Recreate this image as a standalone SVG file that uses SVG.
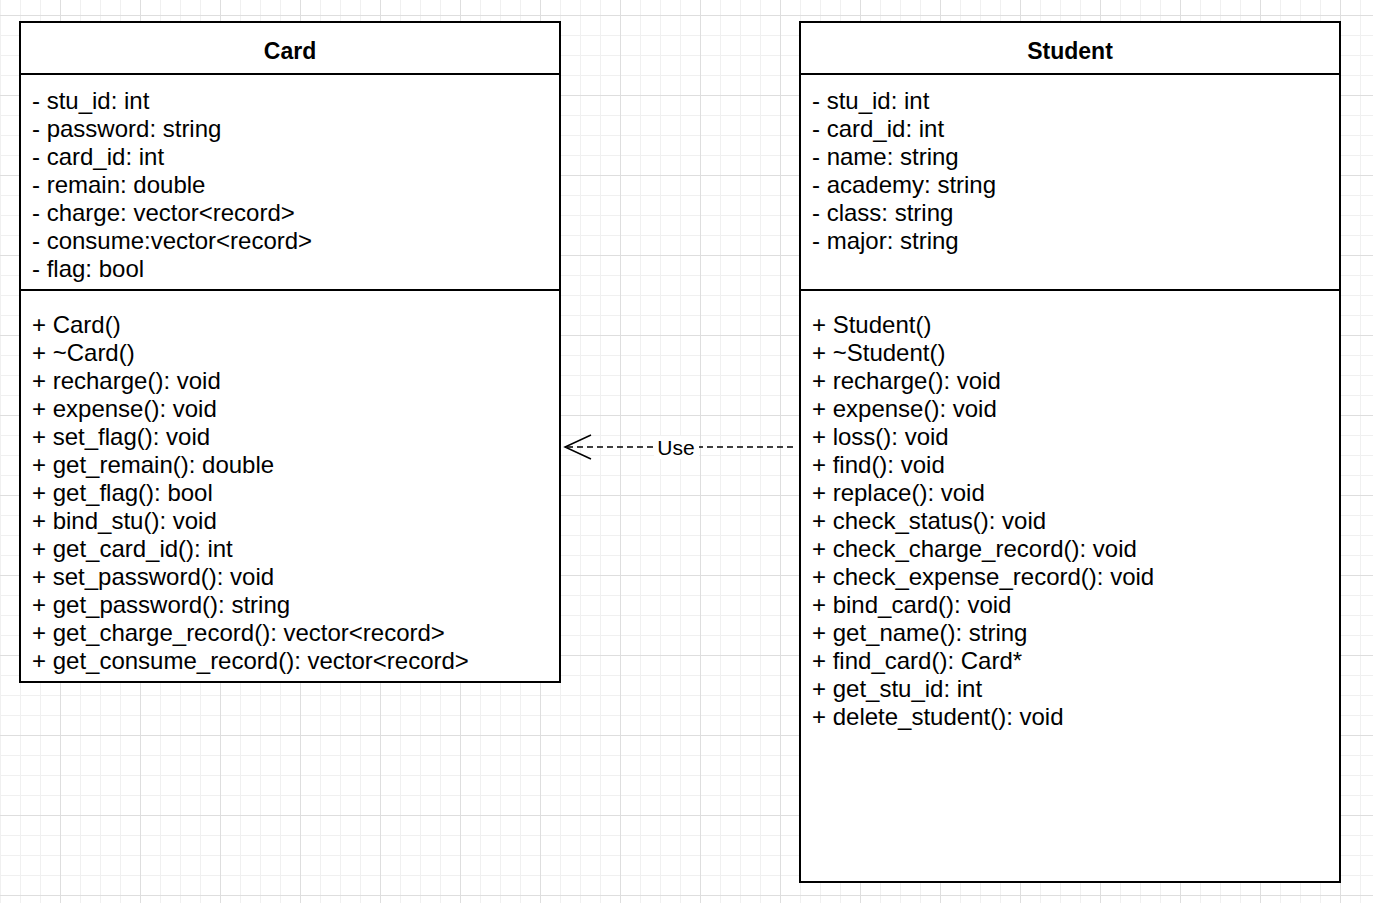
<svg xmlns="http://www.w3.org/2000/svg" width="1373" height="903" viewBox="0 0 1373 903">
<defs>
<pattern id="minor" x="0" y="15" width="20" height="20" patternUnits="userSpaceOnUse">
<path d="M0 0.5H20M0.5 0V20" fill="none" stroke="#f0f0f0" stroke-width="1"/>
</pattern>
<pattern id="major" x="60" y="15" width="80" height="80" patternUnits="userSpaceOnUse">
<path d="M0 0.5H80M0.5 0V80" fill="none" stroke="#dedede" stroke-width="1"/>
</pattern>
<marker id="open" viewBox="0 0 30 30" refX="28" refY="15" markerWidth="30" markerHeight="30" markerUnits="userSpaceOnUse" orient="auto">
<path d="M2 3L28 15L2 27" fill="none" stroke="#000" stroke-width="1.5"/>
</marker>
</defs>
<style>
.box{fill:#fff;stroke:#000;stroke-width:2}
.sep{stroke:#000;stroke-width:2}
.t{font-family:"Liberation Sans",Arial,sans-serif;font-size:24px;fill:#000}
.h{font-family:"Liberation Sans",Arial,sans-serif;font-size:23px;font-weight:bold;fill:#000;text-anchor:middle}
</style>
<rect width="1373" height="903" fill="#fff"/>
<rect width="1373" height="903" fill="url(#minor)"/>
<rect width="1373" height="903" fill="url(#major)"/>

<g id="card">
<rect class="box" x="20" y="22" width="540" height="660"/>
<line class="sep" x1="20" y1="74" x2="560" y2="74"/>
<line class="sep" x1="20" y1="290" x2="560" y2="290"/>
<text class="h" x="290" y="59">Card</text>
<text class="t" x="32" y="109">- stu_id: int</text>
<text class="t" x="32" y="137">- password: string</text>
<text class="t" x="32" y="165">- card_id: int</text>
<text class="t" x="32" y="193">- remain: double</text>
<text class="t" x="32" y="221">- charge: vector&lt;record&gt;</text>
<text class="t" x="32" y="249">- consume:vector&lt;record&gt;</text>
<text class="t" x="32" y="277">- flag: bool</text>
<text class="t" x="32" y="333">+ Card()</text>
<text class="t" x="32" y="361">+ ~Card()</text>
<text class="t" x="32" y="389">+ recharge(): void</text>
<text class="t" x="32" y="417">+ expense(): void</text>
<text class="t" x="32" y="445">+ set_flag(): void</text>
<text class="t" x="32" y="473">+ get_remain(): double</text>
<text class="t" x="32" y="501">+ get_flag(): bool</text>
<text class="t" x="32" y="529">+ bind_stu(): void</text>
<text class="t" x="32" y="557">+ get_card_id(): int</text>
<text class="t" x="32" y="585">+ set_password(): void</text>
<text class="t" x="32" y="613">+ get_password(): string</text>
<text class="t" x="32" y="641">+ get_charge_record(): vector&lt;record&gt;</text>
<text class="t" x="32" y="669">+ get_consume_record(): vector&lt;record&gt;</text>
</g>

<g id="student">
<rect class="box" x="800" y="22" width="540" height="860"/>
<line class="sep" x1="800" y1="74" x2="1340" y2="74"/>
<line class="sep" x1="800" y1="290" x2="1340" y2="290"/>
<text class="h" x="1070" y="59">Student</text>
<text class="t" x="812" y="109">- stu_id: int</text>
<text class="t" x="812" y="137">- card_id: int</text>
<text class="t" x="812" y="165">- name: string</text>
<text class="t" x="812" y="193">- academy: string</text>
<text class="t" x="812" y="221">- class: string</text>
<text class="t" x="812" y="249">- major: string</text>
<text class="t" x="812" y="333">+ Student()</text>
<text class="t" x="812" y="361">+ ~Student()</text>
<text class="t" x="812" y="389">+ recharge(): void</text>
<text class="t" x="812" y="417">+ expense(): void</text>
<text class="t" x="812" y="445">+ loss(): void</text>
<text class="t" x="812" y="473">+ find(): void</text>
<text class="t" x="812" y="501">+ replace(): void</text>
<text class="t" x="812" y="529">+ check_status(): void</text>
<text class="t" x="812" y="557">+ check_charge_record(): void</text>
<text class="t" x="812" y="585">+ check_expense_record(): void</text>
<text class="t" x="812" y="613">+ bind_card(): void</text>
<text class="t" x="812" y="641">+ get_name(): string</text>
<text class="t" x="812" y="669">+ find_card(): Card*</text>
<text class="t" x="812" y="697">+ get_stu_id: int</text>
<text class="t" x="812" y="725">+ delete_student(): void</text>
</g>

<g id="connectors">
<line x1="793" y1="447" x2="565" y2="447" stroke="#000" stroke-width="1.5" stroke-dasharray="6 4" marker-end="url(#open)"/>
<rect x="654" y="436" width="45" height="23" fill="#fff"/>
<text class="t" x="676" y="455" text-anchor="middle" style="font-size:21px">Use</text>
</g>
</svg>
